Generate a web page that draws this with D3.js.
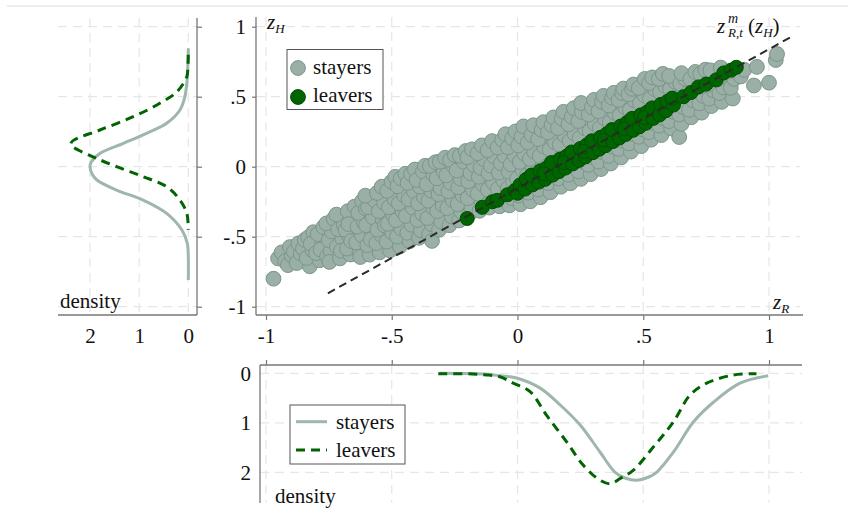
<!DOCTYPE html>
<html>
<head>
<meta charset="utf-8">
<script src="https://cdnjs.cloudflare.com/ajax/libs/d3/7.8.5/d3.min.js"></script>
<style>
  body { margin: 0; background: #fff; }
  svg text { font-family: "Liberation Serif", "Times New Roman", serif; fill: #111; }
</style>
</head>
<body>
<div id="chart"></div>
<script>
const WIDTH = 848;
const HEIGHT = 513;
const FONT_SIZE = 21;
const STAYER_FILL = "#9aafa5";
const STAYER_STROKE = "#7b968a";
const STAYER_LINE = "#9fb6ac";
const LEAVER_FILL = "#006400";
const LEAVER_STROKE = "#004c00";
const GRID_COLOR = "#e6e6e6";
const AXIS_COLOR = "#777";

// --------------- Data ---------------
const zTicks = [-1, -0.5, 0, 0.5, 1];
const densityTicks = [0, 1, 2];
const groups = ["stayers", "leavers"];

// [z_R, z_H]
const stayers = [
  [-0.97, -0.80],
  [-0.952, -0.655], [-0.938, -0.612], [-0.924, -0.676],
  [-0.913, -0.703], [-0.897, -0.636], [-0.905, -0.574], [-0.889, -0.607],
  [-0.878, -0.688], [-0.862, -0.621], [-0.871, -0.548], [-0.853, -0.585], [-0.846, -0.523],
  [-0.826, -0.711], [-0.838, -0.652], [-0.815, -0.598], [-0.832, -0.505], [-0.812, -0.468], [-0.822, -0.55],
  [-0.787, -0.668], [-0.801, -0.617], [-0.776, -0.553], [-0.794, -0.482], [-0.772, -0.432], [-0.783, -0.592],
  [-0.757, -0.641], [-0.743, -0.602], [-0.751, -0.525], [-0.739, -0.462], [-0.76, -0.405], [-0.731, -0.372], [-0.748, -0.68],
  [-0.706, -0.655], [-0.718, -0.571], [-0.697, -0.512], [-0.713, -0.448], [-0.691, -0.414], [-0.72, -0.342], [-0.702, -0.6],
  [-0.664, -0.627], [-0.678, -0.585], [-0.669, -0.497], [-0.684, -0.452], [-0.653, -0.37], [-0.675, -0.318], [-0.648, -0.285], [-0.661, -0.532], [-0.672, -0.41],
  [-0.628, -0.608], [-0.641, -0.542], [-0.619, -0.49], [-0.636, -0.428], [-0.612, -0.395], [-0.633, -0.33], [-0.618, -0.246], [-0.603, -0.3], [-0.625, -0.645],
  [-0.588, -0.628], [-0.597, -0.56], [-0.579, -0.475], [-0.602, -0.418], [-0.575, -0.362], [-0.594, -0.29], [-0.569, -0.238], [-0.605, -0.207], [-0.583, -0.52],
  [-0.548, -0.612], [-0.561, -0.545], [-0.542, -0.487], [-0.557, -0.45], [-0.536, -0.376], [-0.552, -0.318], [-0.531, -0.258], [-0.559, -0.188], [-0.54, -0.143], [-0.528, -0.42],
  [-0.507, -0.598], [-0.52, -0.535], [-0.498, -0.472], [-0.516, -0.408], [-0.494, -0.347], [-0.512, -0.29], [-0.489, -0.232], [-0.518, -0.172], [-0.501, -0.108], [-0.486, -0.072],
  [-0.468, -0.57], [-0.479, -0.5], [-0.462, -0.441], [-0.483, -0.383], [-0.457, -0.318], [-0.472, -0.262], [-0.451, -0.205], [-0.477, -0.14], [-0.464, -0.083], [-0.446, -0.05],
  [-0.429, -0.532], [-0.438, -0.472], [-0.421, -0.415], [-0.444, -0.352], [-0.417, -0.293], [-0.433, -0.233], [-0.412, -0.176], [-0.437, -0.116], [-0.423, -0.052], [-0.408, -0.02],
  [-0.392, -0.508], [-0.384, -0.455], [-0.398, -0.381], [-0.379, -0.336], [-0.395, -0.262], [-0.372, -0.218], [-0.388, -0.143], [-0.401, -0.094], [-0.376, -0.035], [-0.368, 0.006],
  [-0.352, -0.483], [-0.341, -0.412], [-0.358, -0.367], [-0.336, -0.292], [-0.354, -0.243], [-0.343, -0.171], [-0.361, -0.126], [-0.334, -0.058], [-0.349, 0.005], [-0.326, 0.032], [-0.34, -0.53],
  [-0.312, -0.451], [-0.303, -0.392], [-0.319, -0.318], [-0.297, -0.275], [-0.314, -0.198], [-0.306, -0.153], [-0.321, -0.083], [-0.294, -0.036], [-0.309, 0.036], [-0.288, 0.064],
  [-0.271, -0.418], [-0.262, -0.355], [-0.279, -0.296], [-0.258, -0.238], [-0.275, -0.176], [-0.266, -0.115], [-0.283, -0.062], [-0.254, 0.004], [-0.268, 0.049], [-0.249, 0.083],
  [-0.232, -0.384], [-0.223, -0.322], [-0.238, -0.268], [-0.219, -0.203], [-0.236, -0.147], [-0.227, -0.085], [-0.242, -0.027], [-0.214, 0.035], [-0.229, 0.078], [-0.206, 0.112],
  [-0.192, -0.338], [-0.183, -0.286], [-0.198, -0.225], [-0.178, -0.165], [-0.196, -0.104], [-0.187, -0.046], [-0.174, 0.012], [-0.199, 0.068], [-0.181, 0.124],
  [-0.151, -0.315], [-0.143, -0.248], [-0.158, -0.192], [-0.138, -0.127], [-0.154, -0.072], [-0.147, -0.008], [-0.133, 0.052], [-0.159, 0.096], [-0.142, 0.152],
  [-0.112, -0.292], [-0.104, -0.235], [-0.118, -0.165], [-0.097, -0.113], [-0.115, -0.047], [-0.106, 0.008], [-0.093, 0.073], [-0.119, 0.118], [-0.101, 0.183],
  [-0.071, -0.283], [-0.063, -0.215], [-0.078, -0.158], [-0.057, -0.097], [-0.074, -0.043], [-0.066, 0.024], [-0.052, 0.078], [-0.079, 0.137], [-0.061, 0.192], [-0.048, 0.232],
  [-0.032, -0.276], [-0.024, -0.224], [-0.039, -0.155], [-0.018, -0.102], [-0.035, -0.036], [-0.027, 0.017], [-0.013, 0.083], [-0.038, 0.138], [-0.021, 0.202], [-0.008, 0.252],
  [0.012, -0.268], [0.004, -0.206], [0.018, -0.148], [-0.002, -0.086], [0.021, -0.027], [0.009, 0.034], [0.027, 0.094], [0.003, 0.152], [0.016, 0.214], [0.024, 0.288],
  [0.051, -0.247], [0.043, -0.185], [0.058, -0.134], [0.037, -0.064], [0.062, -0.012], [0.049, 0.056], [0.066, 0.107], [0.041, 0.173], [0.056, 0.226], [0.063, 0.296],
  [0.092, -0.218], [0.083, -0.163], [0.098, -0.097], [0.078, -0.045], [0.101, 0.024], [0.088, 0.077], [0.106, 0.143], [0.082, 0.197], [0.096, 0.263], [0.103, 0.318],
  [0.131, -0.182], [0.123, -0.117], [0.138, -0.064], [0.118, 0.006], [0.142, 0.057], [0.128, 0.123], [0.147, 0.176], [0.121, 0.244], [0.136, 0.297], [0.143, 0.352],
  [0.172, -0.143], [0.163, -0.084], [0.178, -0.016], [0.158, 0.037], [0.182, 0.104], [0.168, 0.157], [0.187, 0.223], [0.161, 0.276], [0.176, 0.343], [0.183, 0.392],
  [0.211, -0.118], [0.202, -0.057], [0.218, 0.004], [0.197, 0.064], [0.223, 0.117], [0.207, 0.184], [0.227, 0.236], [0.203, 0.303], [0.216, 0.357], [0.224, 0.418],
  [0.252, -0.087], [0.243, -0.034], [0.258, 0.036], [0.237, 0.088], [0.262, 0.153], [0.247, 0.206], [0.268, 0.274], [0.242, 0.326], [0.256, 0.392], [0.253, 0.455],
  [0.291, -0.053], [0.282, 0.013], [0.298, 0.066], [0.277, 0.134], [0.302, 0.186], [0.287, 0.254], [0.307, 0.305], [0.283, 0.372], [0.296, 0.424], [0.304, 0.477],
  [0.332, -0.017], [0.323, 0.036], [0.338, 0.104], [0.317, 0.157], [0.343, 0.224], [0.327, 0.276], [0.347, 0.343], [0.322, 0.396], [0.336, 0.463], [0.342, 0.506],
  [0.371, 0.023], [0.362, 0.077], [0.378, 0.143], [0.357, 0.196], [0.382, 0.263], [0.367, 0.316], [0.387, 0.384], [0.363, 0.437], [0.376, 0.493], [0.383, 0.528],
  [0.412, 0.066], [0.403, 0.127], [0.418, 0.186], [0.397, 0.246], [0.423, 0.307], [0.407, 0.367], [0.427, 0.426], [0.402, 0.477], [0.416, 0.526], [0.421, 0.558],
  [0.451, 0.108], [0.443, 0.167], [0.458, 0.233], [0.438, 0.286], [0.462, 0.353], [0.447, 0.406], [0.467, 0.472], [0.442, 0.517], [0.456, 0.556], [0.461, 0.587],
  [0.492, 0.147], [0.483, 0.214], [0.498, 0.266], [0.478, 0.334], [0.502, 0.386], [0.487, 0.453], [0.507, 0.506], [0.482, 0.563], [0.506, 0.627],
  [0.531, 0.193], [0.522, 0.246], [0.538, 0.313], [0.517, 0.366], [0.542, 0.433], [0.527, 0.486], [0.547, 0.553], [0.523, 0.597], [0.536, 0.638],
  [0.572, 0.226], [0.563, 0.293], [0.578, 0.346], [0.557, 0.413], [0.582, 0.466], [0.567, 0.533], [0.587, 0.576], [0.562, 0.627], [0.578, 0.663],
  [0.611, 0.273], [0.602, 0.326], [0.618, 0.393], [0.597, 0.446], [0.622, 0.513], [0.607, 0.556], [0.627, 0.607], [0.603, 0.648],
  [0.643, 0.212],
  [0.652, 0.306], [0.643, 0.373], [0.658, 0.426], [0.637, 0.493], [0.662, 0.536], [0.647, 0.594], [0.667, 0.628], [0.652, 0.668],
  [0.691, 0.353], [0.682, 0.406], [0.698, 0.473], [0.677, 0.526], [0.702, 0.583], [0.687, 0.626], [0.707, 0.677],
  [0.732, 0.386], [0.723, 0.453], [0.738, 0.506], [0.717, 0.566], [0.742, 0.606], [0.727, 0.664], [0.747, 0.693],
  [0.771, 0.433], [0.762, 0.486], [0.778, 0.546], [0.757, 0.586], [0.782, 0.643], [0.767, 0.688],
  [0.812, 0.463], [0.803, 0.526], [0.818, 0.566], [0.797, 0.623], [0.822, 0.668], [0.808, 0.708],
  [0.856, 0.487], [0.848, 0.563], [0.862, 0.627], [0.843, 0.683],
  [0.888, 0.645], [0.902, 0.692],
  [0.94, 0.58], [0.952, 0.713], [1.0, 0.60], [1.027, 0.762], [1.032, 0.805]
];

const leavers = [
  [-0.20, -0.37], [-0.14, -0.29], [-0.10, -0.25], [-0.08, -0.24], [-0.04, -0.20], [-0.01, -0.17],
  [0.00, -0.19], [0.01, -0.13], [0.03, -0.16], [0.035, -0.09], [0.06, -0.13], [0.055, -0.06],
  [0.085, -0.11], [0.09, -0.03], [0.11, -0.09], [0.115, -0.01], [0.105, -0.05],
  [0.14, -0.06], [0.135, 0.03], [0.165, -0.035], [0.17, 0.055],
  [0.19, -0.01], [0.195, 0.075], [0.185, 0.03], [0.22, 0.02], [0.215, 0.105],
  [0.245, 0.045], [0.25, 0.13], [0.27, 0.07], [0.275, 0.155], [0.265, 0.11],
  [0.30, 0.10], [0.295, 0.185], [0.325, 0.125], [0.33, 0.21],
  [0.35, 0.15], [0.355, 0.235], [0.345, 0.19], [0.38, 0.18], [0.375, 0.265],
  [0.405, 0.205], [0.41, 0.29], [0.43, 0.23], [0.435, 0.315], [0.425, 0.27],
  [0.46, 0.26], [0.455, 0.345], [0.485, 0.285], [0.49, 0.37],
  [0.51, 0.31], [0.515, 0.39], [0.505, 0.35], [0.54, 0.345], [0.535, 0.42],
  [0.565, 0.37], [0.57, 0.445], [0.59, 0.40], [0.595, 0.465], [0.62, 0.44], [0.615, 0.49],
  [0.66, 0.50], [0.69, 0.53], [0.72, 0.57], [0.75, 0.59], [0.79, 0.62], [0.82, 0.67],
  [0.85, 0.69], [0.87, 0.71]
];

// end points of the dashed line z^m_{R,t}(z_H)
const mLine = [[-0.754, -0.904], [1.085, 0.924]];

// marginal densities, [z, density]
const stayersDensityH = [
  [0.846, 0], [0.714, 0.01], [0.6, 0.03], [0.5, 0.07], [0.405, 0.17], [0.31, 0.44],
  [0.238, 0.85], [0.167, 1.32], [0.095, 1.8], [0.03, 1.98], [0, 2.0], [-0.05, 1.96],
  [-0.095, 1.86], [-0.167, 1.46], [-0.238, 0.92], [-0.333, 0.44], [-0.452, 0.13],
  [-0.548, 0.02], [-0.65, 0.0], [-0.81, 0]
];
const leaversDensityH = [
  [0.8, 0], [0.70, 0.01], [0.643, 0.03], [0.536, 0.23], [0.453, 0.58], [0.357, 1.12],
  [0.262, 1.8], [0.19, 2.33], [0.165, 2.39], [0.143, 2.35], [0.071, 1.94], [0, 1.46],
  [-0.071, 0.92], [-0.143, 0.44], [-0.238, 0.17], [-0.333, 0.03], [-0.452, 0]
];
const stayersDensityR = [
  [-0.31, 0], [-0.2, 0.005], [-0.12, 0.02], [-0.07, 0.05], [0.0, 0.1], [0.09, 0.3],
  [0.17, 0.64], [0.25, 1.05], [0.328, 1.59], [0.388, 2.0], [0.43, 2.12], [0.474, 2.16],
  [0.52, 2.1], [0.553, 2.0], [0.62, 1.59], [0.70, 0.98], [0.78, 0.58], [0.885, 0.2],
  [0.997, 0.05]
];
const leaversDensityR = [
  [-0.315, 0.01], [-0.2, 0.01], [-0.13, 0.03], [-0.07, 0.07], [-0.017, 0.2], [0.05, 0.37],
  [0.116, 0.85], [0.196, 1.39], [0.262, 1.86], [0.328, 2.16], [0.37, 2.23], [0.41, 2.12],
  [0.46, 1.96], [0.54, 1.49], [0.62, 0.98], [0.686, 0.44], [0.752, 0.2], [0.858, 0.035],
  [0.95, 0.01]
];

// --------------- Scales ---------------
const x = d3.scaleLinear().domain([-1, 1]).range([266, 769]);
const y = d3.scaleLinear().domain([-1, 1]).range([306.7, 26.7]);
const dLeft = d3.scaleLinear().domain([0, 2]).range([188.3, 90]);
const dBottom = d3.scaleLinear().domain([0, 2]).range([373.3, 472.3]);

const fmt = d => d === 0 ? "0" : String(d).replace("0.", ".");

const svg = d3.select("#chart")
  .append("svg")
  .attr("width", WIDTH)
  .attr("height", HEIGHT)
  .style("background", "#fff");

// thin page rule at the top
svg.append("line")
  .attr("x1", 7).attr("x2", WIDTH).attr("y1", 6).attr("y2", 6)
  .attr("stroke", "#dddddd").attr("stroke-width", 1.2);

function grid(g, lines) {
  g.selectAll("line")
    .data(lines)
    .enter()
    .append("line")
    .attr("x1", d => d[0]).attr("y1", d => d[1])
    .attr("x2", d => d[2]).attr("y2", d => d[3])
    .attr("stroke", GRID_COLOR)
    .attr("stroke-width", 1.2)
    .attr("stroke-dasharray", "9,6");
}

function axisLine(x1, y1, x2, y2) {
  svg.append("line")
    .attr("x1", x1).attr("y1", y1).attr("x2", x2).attr("y2", y2)
    .attr("stroke", AXIS_COLOR).attr("stroke-width", 1.3);
}

function styleAxis(g) {
  g.select(".domain").remove();
  g.attr("font-family", "Liberation Serif, Times New Roman, serif")
    .attr("font-size", FONT_SIZE);
  g.selectAll(".tick line").attr("stroke", AXIS_COLOR).attr("stroke-width", 1.2);
  g.selectAll(".tick text").attr("fill", "#111");
}

// --------------- Main scatter ---------------
const main = svg.append("g");
grid(main.append("g"), [
  ...zTicks.map(t => [256, y(t), 800, y(t)]),
  ...zTicks.map(t => [x(t), 17, x(t), 315])
]);

main.append("g")
  .selectAll("circle")
  .data(stayers)
  .enter()
  .append("circle")
  .attr("cx", d => x(d[0]))
  .attr("cy", d => y(d[1]))
  .attr("r", 7.4)
  .attr("fill", STAYER_FILL)
  .attr("stroke", STAYER_STROKE)
  .attr("stroke-width", 1);

main.append("g")
  .selectAll("circle")
  .data(leavers)
  .enter()
  .append("circle")
  .attr("cx", d => x(d[0]))
  .attr("cy", d => y(d[1]))
  .attr("r", 7)
  .attr("fill", LEAVER_FILL)
  .attr("stroke", LEAVER_STROKE)
  .attr("stroke-width", 1);

main.append("path")
  .datum(mLine)
  .attr("d", d3.line().x(d => x(d[0])).y(d => y(d[1])))
  .attr("stroke", "#2a2a2a")
  .attr("stroke-width", 2)
  .attr("stroke-dasharray", "8,5")
  .attr("fill", "none");

axisLine(256, 17, 256, 315);
axisLine(256, 315, 803, 315);

svg.append("g")
  .attr("transform", "translate(256,0)")
  .call(d3.axisLeft(y).tickValues(zTicks).tickSize(4).tickPadding(6).tickFormat(fmt))
  .call(styleAxis);

svg.append("g")
  .attr("transform", "translate(0,315)")
  .call(d3.axisBottom(x).tickValues(zTicks).tickSize(5).tickPadding(8).tickFormat(fmt))
  .call(styleAxis);

// axis titles
const zH = svg.append("text").attr("x", 267).attr("y", 29).attr("font-size", FONT_SIZE);
zH.append("tspan").attr("font-style", "italic").text("z");
zH.append("tspan").attr("font-style", "italic").attr("font-size", 13).attr("dy", 4).text("H");

const zR = svg.append("text").attr("x", 773).attr("y", 309).attr("font-size", FONT_SIZE);
zR.append("tspan").attr("font-style", "italic").text("z");
zR.append("tspan").attr("font-style", "italic").attr("font-size", 13).attr("dy", 4).text("R");

const mLab = svg.append("text")
  .attr("y", 33)
  .attr("font-size", FONT_SIZE)
  .attr("font-style", "italic");
mLab.append("tspan").attr("x", 717).text("z");
mLab.append("tspan").attr("x", 728).attr("y", 23).attr("font-size", 14).text("m");
mLab.append("tspan").attr("x", 728).attr("y", 37).attr("font-size", 13).text("R,t");
mLab.append("tspan").attr("x", 748).attr("y", 33).attr("font-style", "normal").text("(");
mLab.append("tspan").text("z");
mLab.append("tspan").attr("y", 37).attr("font-size", 13).text("H");
mLab.append("tspan").attr("y", 33).attr("font-style", "normal").text(")");

// legend
const legMain = svg.append("g");
legMain.append("rect")
  .attr("x", 287).attr("y", 49.5).attr("width", 96).attr("height", 60)
  .attr("fill", "#fff").attr("stroke", "#555").attr("stroke-width", 1);
legMain.selectAll("circle")
  .data(groups)
  .enter()
  .append("circle")
  .attr("cx", 298)
  .attr("cy", (d, i) => 68 + i * 29)
  .attr("r", 7.4)
  .attr("fill", d => d === "stayers" ? STAYER_FILL : LEAVER_FILL)
  .attr("stroke", d => d === "stayers" ? STAYER_STROKE : LEAVER_STROKE);
legMain.selectAll("text")
  .data(groups)
  .enter()
  .append("text")
  .attr("x", 313)
  .attr("y", (d, i) => 74 + i * 28)
  .attr("font-size", FONT_SIZE)
  .text(d => d);

// --------------- Left marginal: density of z_H ---------------
grid(svg.append("g"), [
  ...zTicks.map(t => [58, y(t), 197, y(t)]),
  ...densityTicks.map(t => [dLeft(t), 18, dLeft(t), 315])
]);

const lineH = d3.line()
  .x(d => dLeft(d[1]))
  .y(d => y(d[0]))
  .curve(d3.curveCatmullRom);

svg.append("path")
  .datum(stayersDensityH)
  .attr("d", lineH)
  .attr("fill", "none")
  .attr("stroke", STAYER_LINE)
  .attr("stroke-width", 3);

svg.append("path")
  .datum(leaversDensityH)
  .attr("d", lineH)
  .attr("fill", "none")
  .attr("stroke", LEAVER_FILL)
  .attr("stroke-width", 3)
  .attr("stroke-dasharray", "9,6");

axisLine(197, 18, 197, 315);
axisLine(58, 315, 197, 315);

svg.append("g")
  .attr("transform", "translate(197,0)")
  .call(d3.axisRight(y).tickValues(zTicks).tickSize(5).tickFormat(""))
  .call(styleAxis);

svg.append("g")
  .attr("transform", "translate(0,315)")
  .call(d3.axisBottom(dLeft).tickValues(densityTicks).tickSize(0).tickPadding(13).tickFormat(d3.format("d")))
  .call(styleAxis);

svg.append("text")
  .attr("x", 60).attr("y", 308)
  .attr("font-size", FONT_SIZE)
  .text("density");

// --------------- Bottom marginal: density of z_R ---------------
grid(svg.append("g"), [
  ...densityTicks.map(t => [260, dBottom(t), 802, dBottom(t)]),
  ...zTicks.map(t => [x(t), 365, x(t), 503])
]);

const lineR = d3.line()
  .x(d => x(d[0]))
  .y(d => dBottom(d[1]))
  .curve(d3.curveCatmullRom);

svg.append("path")
  .datum(stayersDensityR)
  .attr("d", lineR)
  .attr("fill", "none")
  .attr("stroke", STAYER_LINE)
  .attr("stroke-width", 3);

svg.append("path")
  .datum(leaversDensityR)
  .attr("d", lineR)
  .attr("fill", "none")
  .attr("stroke", LEAVER_FILL)
  .attr("stroke-width", 3)
  .attr("stroke-dasharray", "9,6");

axisLine(260, 365, 802, 365);
axisLine(260, 365, 260, 503);

svg.append("g")
  .attr("transform", "translate(0,365)")
  .call(d3.axisTop(x).tickValues(zTicks).tickSize(5).tickFormat(""))
  .call(styleAxis);

svg.append("g")
  .attr("transform", "translate(260,0)")
  .call(d3.axisLeft(dBottom).tickValues(densityTicks).tickSize(0).tickPadding(9).tickFormat(d3.format("d")))
  .call(styleAxis);

svg.append("text")
  .attr("x", 275).attr("y", 503)
  .attr("font-size", FONT_SIZE)
  .text("density");

// legend
const legBottom = svg.append("g");
legBottom.append("rect")
  .attr("x", 290).attr("y", 405).attr("width", 115).attr("height", 59)
  .attr("fill", "#fff").attr("stroke", "#555").attr("stroke-width", 1);
legBottom.selectAll("line")
  .data(groups)
  .enter()
  .append("line")
  .attr("x1", 296).attr("x2", 327)
  .attr("y1", (d, i) => 421.7 + i * 28.3)
  .attr("y2", (d, i) => 421.7 + i * 28.3)
  .attr("stroke", d => d === "stayers" ? STAYER_LINE : LEAVER_FILL)
  .attr("stroke-width", 3)
  .attr("stroke-dasharray", d => d === "stayers" ? null : "9,6");
legBottom.selectAll("text")
  .data(groups)
  .enter()
  .append("text")
  .attr("x", 336)
  .attr("y", (d, i) => 429 + i * 28.3)
  .attr("font-size", FONT_SIZE)
  .text(d => d);
</script>
</body>
</html>
